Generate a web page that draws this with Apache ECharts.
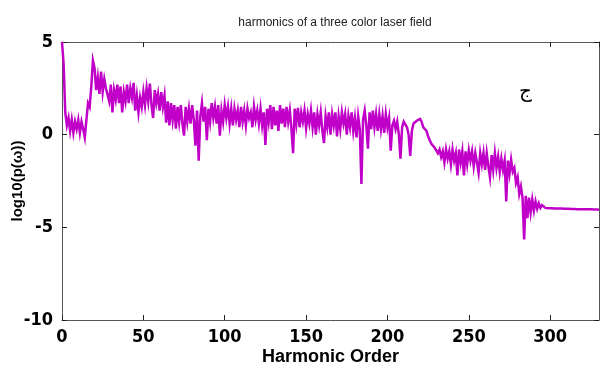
<!DOCTYPE html>
<html>
<head>
<meta charset="utf-8">
<script src="https://cdn.jsdelivr.net/npm/echarts@6/dist/echarts.min.js"></script>
<style>html,body{margin:0;padding:0;background:#fff}#c{width:600px;height:365px}</style>
</head>
<body>
<div id="c"></div>
<script>
// log10 power spectrum, one value per harmonic order starting at 0
var logPower = [
  5.0, 3.8, 1.2, 0.5, 0.9, 0.2, 0.8, 0.1, 0.7, 0.3,
  0.8, 0.1, 0.7, 0.3, -0.15, 0.8, 1.7, 1.5, 2.6, 4.0,
  3.6, 2.4, 3.1, 2.2, 3.4, 2.3, 3.0, 2.5, 2.6, 1.8,
  2.7, 1.2, 2.4, 1.9, 2.7, 1.7, 2.6, 1.2, 2.3, 1.8,
  2.7, 1.7, 2.5, 2.0, 2.8, 1.3, 2.1, 1.2, 2.0, 1.5,
  2.3, 1.6, 2.5, 1.8, 2.75, 1.6, 0.9, 2.4, 1.7, 2.2,
  1.3, 2.3, 1.5, 2.1, 0.65, 1.8, 0.5, 1.7, 0.8, 1.6,
  0.33, 1.5, 0.7, 1.6, 0.6, -0.05, 1.5, 0.7, 1.4, 0.6,
  1.6, 0.8, -0.6, 1.3, -1.4, 1.0, 1.7, 0.7, 1.5, -0.3,
  1.4, 0.7, 1.7, 0.9, 1.5, 0.6, 1.6, -0.05, 1.3, 0.7,
  1.6, 0.9, 1.5, 0.6, 1.4, 0.5, 1.4, 0.8, 1.3, 0.4,
  1.5, 0.7, 1.3, 0.5, 1.4, 0.9, 1.2, 0.4, 1.5, 0.8,
  1.3, 0.6, 1.4, 0.5, 1.2, -0.55, 1.4, 0.7, 1.6, 0.3,
  1.5, 0.5, 1.3, 0.2, 1.6, 0.6, 1.4, 0.4, 1.5, 0.7,
  1.3, 0.3, -1.0, 1.4, 0.6, 1.45, 0.4, 1.2, 0.7, 1.3,
  0.35, 1.1, 0.6, 1.3, 0.4, 1.2, 0.0, 1.1, 0.5, 1.2,
  0.2, -0.45, 1.0, 0.4, 1.2, 0.0, 1.1, 0.5, 1.2, -0.1,
  1.0, 0.3, 1.2, 0.6, 1.1, 0.0, 1.0, 0.4, 1.2, 0.2,
  0.9, -0.15, 1.0, 0.3, -2.66, 0.8, 1.3, 0.5, -0.76, 1.2,
  0.3, 1.3, 0.4, 1.1, 0.2, 1.1, 0.3, 1.0, 0.1, 1.1,
  0.4, 0.9, -0.87, 0.5, 0.75, 0.3, 0.7, 0.0, -1.3, 0.4,
  0.7, 0.8, 0.4, 0.0, -1.15, 0.2, 0.6, 0.7, 0.75, 0.85,
  0.85, 0.7, 0.4, 0.3, 0.2, -0.1, -0.3, -0.5, -0.4, -0.7,
  -0.6, -1.0, -0.8, -1.2, -0.9, -1.5, -0.8, -1.3, -0.9, -1.6,
  -0.8, -1.4, -1.0, -2.2, -0.8, -1.5, -0.9, -2.2, -0.9, -1.6,
  -0.85, -1.4, -0.9, -1.7, -1.0, -1.5, -2.05, -1.0, -1.6, -1.0,
  -1.9, -1.0, -1.7, -2.3, -1.1, -1.9, -1.0, -1.8, -1.2, -2.0,
  -1.3, -1.9, -1.4, -3.6, -1.4, -2.1, -1.36, -2.0, -1.8, -2.6,
  -2.3, -3.2, -2.8, -3.4, -5.65, -3.3, -4.5, -3.4, -4.2, -3.5,
  -4.1, -3.6, -4.0, -3.7, -3.95, -3.8, -3.9, -3.95, -3.97, -3.97,
  -3.97, -3.97, -3.98, -3.98, -3.98, -3.99, -3.99, -3.99, -4.0, -4.0,
  -4.0, -4.0, -4.0, -4.01, -4.01, -4.01, -4.01, -4.02, -4.02, -4.02,
  -4.02, -4.03, -4.03, -4.03, -4.03, -4.03, -4.04, -4.04, -4.04, -4.04,
  -4.05
];
var harmonicOrder = logPower.map(function (v, i) { return i; });
var xTicks = [0, 50, 100, 150, 200, 250, 300];
var yTicks = [-10, -5, 0, 5];

var tickFont = "'DejaVu Sans Condensed',sans-serif";
var chart = echarts.init(document.getElementById('c'), null, {renderer: 'canvas'});
var seriesData = harmonicOrder.map(function (h, i) { return [h, logPower[i]]; });

var axisCommon = {
  axisLine: {show: true, onZero: false, lineStyle: {color: '#555', width: 1}},
  axisTick: {show: true, inside: true, length: 5, lineStyle: {color: '#222', width: 1}},
  splitLine: {show: false}
};

chart.setOption({
  animation: false,
  backgroundColor: '#fff',
  title: {
    text: 'harmonics of a three color laser field',
    left: 330, top: 12, textAlign: 'center',
    textStyle: {fontFamily: 'Liberation Sans', fontSize: 12, fontWeight: 'normal', color: '#222'}
  },
  grid: {left: 62, right: 1, top: 42, bottom: 45, containLabel: false, outerBoundsMode: 'none'},
  xAxis: [
    Object.assign({}, axisCommon, {
      type: 'value', position: 'bottom', min: 0, max: 330, interval: 50,
      axisLabel: {
        fontFamily: tickFont, fontWeight: 'bold', fontSize: 18, color: '#000', margin: 8,
        showMaxLabel: false,
        formatter: function (v) { return xTicks.indexOf(v) >= 0 ? String(v) : ''; }
      },
      name: 'Harmonic Order', nameLocation: 'middle', nameGap: 28, nameMoveOverlap: false,
      nameTextStyle: {fontFamily: 'Liberation Sans', fontWeight: 'bold', fontSize: 18, color: '#000', verticalAlign: 'top'}
    }),
    Object.assign({}, axisCommon, {
      type: 'value', position: 'top', min: 0, max: 330, interval: 50,
      axisLabel: {show: false}
    })
  ],
  yAxis: [
    Object.assign({}, axisCommon, {
      type: 'value', position: 'left', min: -10, max: 5, interval: 5,
      axisLabel: {
        fontFamily: tickFont, fontWeight: 'bold', fontSize: 18, color: '#000', margin: 9,
        formatter: function (v) { return yTicks.indexOf(v) >= 0 ? String(v) : ''; }
      },
      name: 'log10(p(\u03c9))', nameLocation: 'middle', nameGap: 44, nameRotate: 90, nameMoveOverlap: false,
      nameTextStyle: {fontFamily: 'Liberation Sans', fontWeight: 'bold', fontSize: 15, color: '#000', verticalAlign: 'middle'}
    }),
    Object.assign({}, axisCommon, {
      type: 'value', position: 'right', min: -10, max: 5, interval: 5,
      axisLabel: {show: false}
    })
  ],
  graphic: [{
    type: 'text', left: 519, top: 82,
    style: {text: '\u062c', fontFamily: "'DejaVu Serif','DejaVu Sans',serif", fontSize: 20, fill: '#000'}
  }],
  series: [{
    type: 'line', xAxisIndex: 0, yAxisIndex: 0,
    data: seriesData, showSymbol: false, symbol: 'none',
    lineStyle: {color: '#c000c8', width: 2.5, join: 'miter'},
    clip: true
  }]
});
</script>
</body>
</html>
